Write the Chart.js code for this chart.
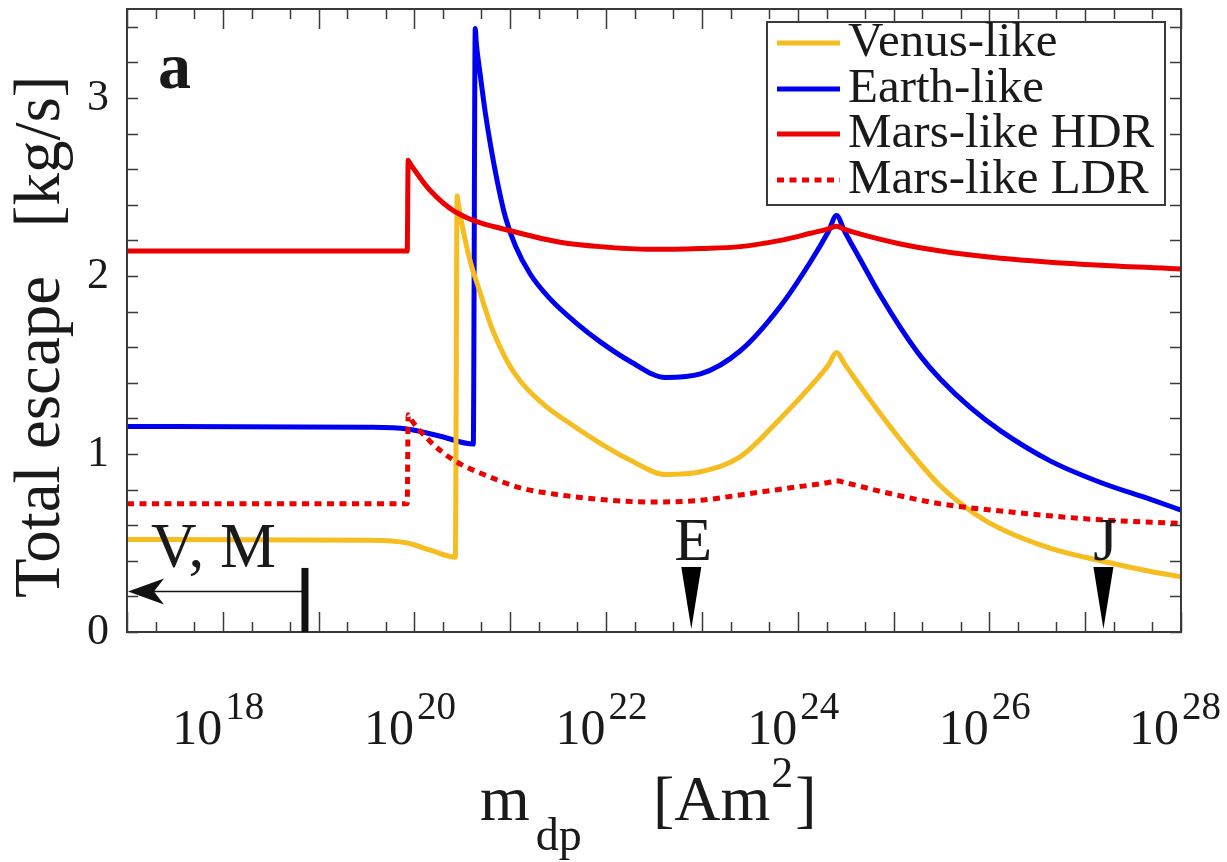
<!DOCTYPE html>
<html>
<head>
<meta charset="utf-8">
<title>Total escape vs dipole moment</title>
<script src="https://cdn.jsdelivr.net/npm/chart.js@4.4.1/dist/chart.umd.min.js"></script>
<style>
  html, body { margin: 0; padding: 0; background: #fff; }
  #wrap { width: 1227px; height: 862px; }
</style>
</head>
<body>
<div id="wrap"><canvas id="escape-chart" width="1227" height="862"></canvas></div>
<script>
const FONT = "'Liberation Serif', 'Times New Roman', serif";
const INK = '#1a1a1a';

// dipole moment m_dp [Am^2] and total escape [kg/s]
const venusM   = [1e17, 3.46e19, 8.4e19, 1.46e20, 2.67e20, 2.79e20, 2.86e20, 3.16e20, 3.83e20, 4.63e20,
                  6.5e20, 9.3e20, 1.27e21, 2.32e21, 4.24e21, 8.7e21, 1.79e22, 4.16e22, 9.66e22, 2.52e23,
                  6.6e23, 1.36e24, 2.09e24, 2.54e24, 3.09e24, 5.75e24, 1.18e25, 3.09e25, 7.2e25, 1.31e26,
                  4.36e26, 1.45e27, 4.82e27, 1e28];
const venusEsc = [0.52, 0.515, 0.50, 0.46, 0.42, 2.45, 2.41, 2.28, 2.08, 1.94,
                  1.70, 1.52, 1.41, 1.27, 1.17, 1.06, 0.965, 0.885, 0.90, 0.985,
                  1.2, 1.38, 1.50, 1.57, 1.505, 1.30, 1.08, 0.82, 0.66, 0.58,
                  0.47, 0.40, 0.34, 0.31];

const earthM   = [1e17, 3.46e19, 8.4e19, 1.86e20, 4.11e20, 4.31e20, 4.42e20, 4.86e20, 5.48e20, 6.2e20,
                  7.33e20, 8.9e20, 1.13e21, 1.62e21, 2.62e21, 4.78e21, 8.7e21, 1.79e22, 4.16e22, 9.66e22,
                  2.52e23, 6.6e23, 1.36e24, 2.09e24, 2.54e24, 3.09e24, 4.52e24, 7.3e24, 1.18e25, 1.91e25,
                  3.09e25, 6.35e25, 1.31e26, 4.36e26, 1.45e27, 4.82e27, 1e28];
const earthEsc = [1.155, 1.15, 1.14, 1.10, 1.056, 3.39, 3.31, 3.13, 2.92, 2.74,
                  2.53, 2.33, 2.17, 2.01, 1.87, 1.74, 1.63, 1.52, 1.43, 1.45,
                  1.58, 1.83, 2.08, 2.25, 2.34, 2.25, 2.09, 1.89, 1.71, 1.55,
                  1.42, 1.26, 1.13, 0.96, 0.84, 0.745, 0.685];

const hdrM   = [1e17, 8.4e19, 8.6e19, 8.8e19, 1.05e20, 1.46e20, 2.67e20, 1.27e21, 3.33e21, 8.7e21, 2.9e22,
                9.66e22, 2.52e23, 6.6e23, 1.36e24, 2.09e24, 2.54e24, 3.09e24, 4.52e24, 1.18e25, 3.09e25,
                1.31e26, 1.45e27, 1e28];
const hdrEsc = [2.14, 2.14, 2.65, 2.64, 2.58, 2.48, 2.36, 2.24, 2.19, 2.165, 2.15,
                2.155, 2.165, 2.20, 2.24, 2.265, 2.28, 2.262, 2.235, 2.18, 2.14,
                2.10, 2.06, 2.04];

const ldrM   = [1e17, 8.4e19, 8.6e19, 8.8e19, 1.46e20, 2.67e20, 6.2e20, 1.27e21, 3.33e21, 8.7e21, 2.9e22,
                9.66e22, 2.52e23, 8.4e23, 2.09e24, 2.54e24, 3.09e24, 7.3e24, 3.09e25, 1.31e26, 1.45e27, 1e28];
const ldrEsc = [0.72, 0.72, 1.22, 1.21, 1.07, 0.96, 0.87, 0.81, 0.77, 0.745, 0.73,
                0.74, 0.77, 0.81, 0.84, 0.85, 0.84, 0.79, 0.72, 0.68, 0.63, 0.61];

const seriesNames  = ['Venus-like', 'Earth-like', 'Mars-like HDR', 'Mars-like LDR'];
const seriesColors = ['#f5bd20', '#0000f0', '#ec0000', '#ec0000'];

// axes
const xDecades = [1e17, 1e18, 1e19, 1e20, 1e21, 1e22, 1e23, 1e24, 1e25, 1e26, 1e27, 1e28];
const xLabelExps = [18, 20, 22, 24, 26, 28];
const yTickValues = [0, 0.2, 0.4, 0.6, 0.8, 1, 1.2, 1.4, 1.6, 1.8, 2, 2.2, 2.4, 2.6, 2.8, 3, 3.2, 3.4];
const yLabelValues = [0, 1, 2, 3];

// planet markers on the x axis
const markerNames = ['E', 'J'];
const markerMoments = [7.75e22, 1.55e27];
const vmLimit = 7.2e18;   // V, M upper bound
const vmArrowLevel = 0.23;

const pts = (xs, ys) => xs.map((x, i) => ({ x, y: ys[i] }));

const escapeFrame = {
  id: 'escapeFrame',
  afterDatasetsDraw(chart) {
    const { ctx, chartArea: a, scales: { x: xs, y: ys } } = chart;
    ctx.save();

    // frame
    ctx.strokeStyle = '#3a3a3a';
    ctx.lineWidth = 2;
    ctx.strokeRect(a.left, a.top, a.right - a.left, a.bottom - a.top);

    // inward ticks, all four sides
    ctx.lineWidth = 1.5;
    ctx.beginPath();
    xDecades.forEach((d, i) => {
      const marks = [[d, 20]];
      if (i < xDecades.length - 1) marks.push([d * 2, 10], [d * 5, 10]);
      marks.forEach(([v, len]) => {
        const px = Math.round(xs.getPixelForValue(v)) + 0.5;
        ctx.moveTo(px, a.bottom); ctx.lineTo(px, a.bottom - len);
        ctx.moveTo(px, a.top); ctx.lineTo(px, a.top + len);
      });
    });
    yTickValues.forEach(v => {
      const py = Math.round(ys.getPixelForValue(v)) + 0.5;
      ctx.moveTo(a.left, py); ctx.lineTo(a.left + 11, py);
      ctx.moveTo(a.right, py); ctx.lineTo(a.right - 11, py);
    });
    ctx.stroke();

    // x tick labels 10^n
    ctx.fillStyle = INK;
    ctx.textBaseline = 'alphabetic';
    ctx.textAlign = 'left';
    xLabelExps.forEach(n => {
      ctx.font = `50px ${FONT}`;
      const wb = ctx.measureText('10').width;
      ctx.font = `39px ${FONT}`;
      const ws = ctx.measureText(String(n)).width;
      const w = wb + 3 + ws;
      const px = xs.getPixelForValue(Math.pow(10, n));
      const cx = Math.min(px - 4.5, 1221 - w / 2);
      const left = cx - w / 2;
      ctx.font = `50px ${FONT}`;
      ctx.fillText('10', left, 744);
      ctx.font = `39px ${FONT}`;
      ctx.fillText(String(n), left + wb + 3, 719);
    });

    // x title: m_dp [Am^2]
    const tx = (a.left + a.right) / 2 - 174;
    ctx.font = `64px ${FONT}`;
    ctx.fillText('m', tx, 820);
    const wm = ctx.measureText('m').width;
    ctx.font = `46px ${FONT}`;
    ctx.fillText('dp', tx + wm + 6, 850);
    ctx.font = `64px ${FONT}`;
    ctx.fillText('[Am', tx + 173, 820);
    const wam = ctx.measureText('[Am').width;
    ctx.font = `44px ${FONT}`;
    ctx.fillText('2', tx + 173 + wam + 1, 787);
    const w2 = ctx.measureText('2').width;
    ctx.font = `64px ${FONT}`;
    ctx.fillText(']', tx + 173 + wam + w2 + 3, 820);

    // panel letter
    ctx.font = `bold 66px ${FONT}`;
    ctx.fillText('a', 158, 88);

    // V, M bound with arrow to the left axis
    const y0 = ys.getPixelForValue(0);
    const bx = xs.getPixelForValue(vmLimit);
    const ay = Math.round(ys.getPixelForValue(vmArrowLevel)) + 0.5;
    ctx.strokeStyle = '#111';
    ctx.lineWidth = 1.5;
    ctx.beginPath();
    ctx.moveTo(a.left + 20, ay); ctx.lineTo(bx, ay);
    ctx.stroke();
    ctx.fillStyle = '#111';
    ctx.beginPath();
    ctx.moveTo(a.left + 1, ay);
    ctx.lineTo(a.left + 37, ay - 13);
    ctx.lineTo(a.left + 27, ay);
    ctx.lineTo(a.left + 37, ay + 13);
    ctx.closePath();
    ctx.fill();
    ctx.lineWidth = 7;
    ctx.beginPath();
    ctx.moveTo(bx, ys.getPixelForValue(0.36)); ctx.lineTo(bx, y0);
    ctx.stroke();
    ctx.fillStyle = INK;
    ctx.font = `63px ${FONT}`;
    ctx.fillText('V, M', a.left + 24, 567);

    // E and J markers
    markerNames.forEach((name, i) => {
      const px = xs.getPixelForValue(markerMoments[i]);
      const top = ys.getPixelForValue(0.365);
      ctx.fillStyle = '#000';
      ctx.beginPath();
      ctx.moveTo(px - 10, top);
      ctx.lineTo(px + 10, top);
      ctx.lineTo(px, y0 - 3);
      ctx.closePath();
      ctx.fill();
      ctx.fillStyle = INK;
      ctx.font = `62px ${FONT}`;
      ctx.textAlign = 'center';
      ctx.fillText(name, px + 2, ys.getPixelForValue(0.405));
      ctx.textAlign = 'left';
    });

    // legend box
    const lx = 767, ly = 22, lw = 398, lh = 183;
    ctx.fillStyle = '#fff';
    ctx.fillRect(lx, ly, lw, lh);
    ctx.strokeStyle = '#3a3a3a';
    ctx.lineWidth = 2;
    ctx.strokeRect(lx, ly, lw, lh);
    const rowY = [43, 89, 134, 180];
    chart.data.datasets.forEach((ds, i) => {
      const yy = rowY[i];
      ctx.strokeStyle = ds.borderColor;
      ctx.lineWidth = 5;
      ctx.lineCap = 'butt';
      ctx.setLineDash(ds.borderDash || []);
      ctx.beginPath();
      ctx.moveTo(777, yy); ctx.lineTo(840, yy);
      ctx.stroke();
      ctx.setLineDash([]);
      ctx.fillStyle = INK;
      ctx.font = `49px ${FONT}`;
      ctx.fillText(ds.label, 848, yy + 13);
    });

    ctx.restore();
  }
};

const lineStyle = (i) => ({
  label: seriesNames[i],
  borderColor: seriesColors[i],
  backgroundColor: seriesColors[i],
  borderWidth: 5,
  pointRadius: 0,
  cubicInterpolationMode: 'monotone',
  fill: false,
  borderJoinStyle: 'round'
});

new Chart(document.getElementById('escape-chart'), {
  type: 'line',
  data: {
    datasets: [
      { ...lineStyle(0), data: pts(venusM, venusEsc), order: 2 },
      { ...lineStyle(1), data: pts(earthM, earthEsc), order: 3 },
      { ...lineStyle(2), data: pts(hdrM, hdrEsc), order: 0 },
      { ...lineStyle(3), data: pts(ldrM, ldrEsc), order: 1, borderDash: [7, 5.5] }
    ]
  },
  options: {
    responsive: false,
    animation: false,
    events: [],
    layout: { padding: { top: 9, right: 46, left: 0, bottom: 0 } },
    plugins: { legend: { display: false }, tooltip: { enabled: false } },
    scales: {
      x: {
        type: 'logarithmic',
        min: 1e17, max: 1e28,
        grid: { display: false, drawTicks: false },
        border: { display: false },
        ticks: { display: false },
        afterFit: s => { s.height = 230; s.paddingLeft = 0; s.paddingRight = 0; }
      },
      y: {
        min: 0, max: 3.5,
        grid: { display: false, drawTicks: false },
        border: { display: false },
        afterBuildTicks: s => { s.ticks = yTickValues.map(v => ({ value: v })); },
        ticks: {
          font: { family: FONT, size: 44 },
          color: INK,
          padding: 18,
          autoSkip: false,
          maxRotation: 0,
          callback: v => yLabelValues.includes(v) ? String(v) : ''
        },
        title: {
          display: true,
          text: 'Total escape   [kg/s]  ',
          font: { family: FONT, size: 65 },
          color: INK,
          padding: { top: 3, bottom: 0 }
        },
        afterFit: s => { s.width = 127; s.paddingTop = 0; s.paddingBottom = 0; }
      }
    }
  },
  plugins: [escapeFrame]
});
</script>
</body>
</html>
